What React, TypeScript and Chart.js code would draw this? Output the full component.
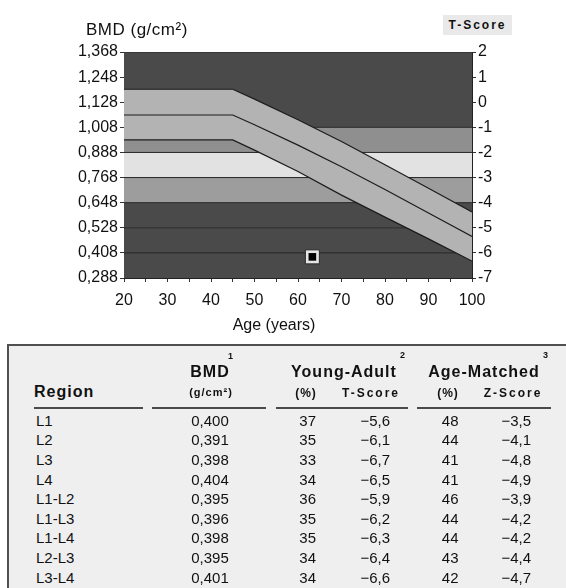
import React, { useEffect, useRef } from 'react';
import { Chart, registerables } from 'chart.js';

Chart.register(...registerables);

// ---- chart data ----
const curveAges = [20, 45, 50, 60, 70, 80, 90, 100];
const upperBand = [1.19, 1.19, 1.143, 1.044, 0.94, 0.829, 0.717, 0.604];
const meanCurve = [1.067, 1.067, 1.02, 0.923, 0.82, 0.711, 0.599, 0.487];
const lowerBand = [0.948, 0.948, 0.899, 0.797, 0.684, 0.579, 0.475, 0.369];
const stripeTops = [0.408, 0.528, 0.648, 0.768, 0.888, 1.008, 1.368];
const stripeColors = ['#4a4a4a', '#4a4a4a', '#4a4a4a', '#9d9d9d', '#e2e2e2', '#8f8f8f', '#4a4a4a'];
const patientAge = [63.3];
const patientBmd = [0.389];
const bmdTicks = [0.288, 0.408, 0.528, 0.648, 0.768, 0.888, 1.008, 1.128, 1.248, 1.368];
const tScoreTicks = [-7, -6, -5, -4, -3, -2, -1, 0, 1, 2];
const ageTicks = [20, 25, 30, 35, 40, 45, 50, 55, 60, 65, 70, 75, 80, 85, 90, 95, 100];
const ageLabelled = [20, 30, 40, 50, 60, 70, 80, 90, 100];

// ---- table data ----
const regions = ['L1', 'L2', 'L3', 'L4', 'L1-L2', 'L1-L3', 'L1-L4', 'L2-L3', 'L3-L4'];
const bmdValues = [0.4, 0.391, 0.398, 0.404, 0.395, 0.396, 0.398, 0.395, 0.401];
const youngAdultPct = [37, 35, 33, 34, 36, 35, 35, 34, 34];
const tScores = [-5.6, -6.1, -6.7, -6.5, -5.9, -6.2, -6.3, -6.4, -6.6];
const ageMatchedPct = [48, 44, 41, 41, 46, 44, 44, 43, 42];
const zScores = [-3.5, -4.1, -4.8, -4.9, -3.9, -4.2, -4.2, -4.4, -4.7];

const FONT = "'Liberation Sans', Arial, sans-serif";
const W = 566;

const comma = (v: number, d: number) => {
  const s = Math.abs(v).toFixed(d).replace('.', ',');
  return (v < 0 ? '\u2212' : '') + s;
};

function BmdChart() {
  const ref = useRef<HTMLCanvasElement | null>(null);
  useEffect(() => {
    if (!ref.current) return;
    const pts = (ys: number[]) => curveAges.map((a, i) => ({ x: a, y: ys[i] }));
    const stripeSets = stripeTops.map((top, i) => ({
      type: 'line' as const,
      data: [
        { x: 20, y: top },
        { x: 100, y: top },
      ],
      borderColor: '#262626',
      borderWidth: 1,
      pointRadius: 0,
      backgroundColor: stripeColors[i],
      fill: i === 0 ? 'start' : '-1',
      order: 3,
    }));
    const n = stripeSets.length;
    const datasets: any[] = [
      ...stripeSets,
      {
        type: 'line',
        data: pts(upperBand),
        borderColor: '#1c1c1c',
        borderWidth: 1.2,
        pointRadius: 0,
        backgroundColor: '#b3b3b3',
        fill: { target: n + 2 },
        order: 2,
      },
      {
        type: 'line',
        data: pts(meanCurve),
        borderColor: '#1c1c1c',
        borderWidth: 1.2,
        pointRadius: 0,
        fill: false,
        order: 1,
      },
      {
        type: 'line',
        data: pts(lowerBand),
        borderColor: '#1c1c1c',
        borderWidth: 1.2,
        pointRadius: 0,
        fill: false,
        order: 1,
      },
      {
        type: 'line',
        data: patientAge.map((a, i) => ({ x: a, y: patientBmd[i] })),
        showLine: false,
        pointStyle: 'rect',
        pointRadius: 9.9,
        backgroundColor: '#e6e6e6',
        borderColor: '#2a2a2a',
        borderWidth: 1,
        order: 0,
      },
      {
        type: 'line',
        data: patientAge.map((a, i) => ({ x: a, y: patientBmd[i] })),
        showLine: false,
        pointStyle: 'rect',
        pointRadius: 5.4,
        backgroundColor: '#000',
        borderWidth: 0,
        order: -1,
      },
    ];
    const tickFont = { family: FONT, size: 16 };
    const chart = new Chart(ref.current, {
      type: 'line',
      data: { datasets },
      options: {
        responsive: false,
        animation: false,
        events: [],
        devicePixelRatio: 1,
        layout: { padding: { left: 64, right: 54, top: 52, bottom: 8 } },
        plugins: { legend: { display: false }, tooltip: { enabled: false }, title: { display: false } },
        scales: {
          x: {
            type: 'linear',
            min: 20,
            max: 100,
            afterBuildTicks: (s: any) => {
              s.ticks = ageTicks.map((v) => ({ value: v }));
            },
            afterFit: (s: any) => {
              s.height = 34;
            },
            ticks: {
              autoSkip: false,
              maxRotation: 0,
              padding: 9,
              color: '#111',
              font: tickFont,
              callback: (v: any) => (ageLabelled.includes(Number(v)) ? String(v) : ''),
            },
            grid: { drawOnChartArea: false, drawTicks: true, tickLength: 4, color: '#333' },
            border: { display: true, color: '#222', width: 1 },
          },
          y: {
            type: 'linear',
            position: 'left',
            min: 0.288,
            max: 1.368,
            afterBuildTicks: (s: any) => {
              s.ticks = bmdTicks.map((v) => ({ value: v }));
            },
            afterFit: (s: any) => {
              s.width = 60;
            },
            ticks: {
              padding: 2,
              color: '#111',
              font: tickFont,
              callback: (v: any) => Number(v).toFixed(3).replace('.', ','),
            },
            grid: { drawOnChartArea: false, drawTicks: true, tickLength: 4, color: '#333' },
            border: { display: true, color: '#222', width: 1 },
          },
          y2: {
            type: 'linear',
            position: 'right',
            min: -7,
            max: 2,
            afterBuildTicks: (s: any) => {
              s.ticks = tScoreTicks.map((v) => ({ value: v }));
            },
            afterFit: (s: any) => {
              s.width = 40;
            },
            ticks: {
              padding: 2,
              color: '#111',
              font: tickFont,
              callback: (v: any) => String(v),
            },
            grid: { drawOnChartArea: false, drawTicks: true, tickLength: 4, color: '#333' },
            border: { display: true, color: '#222', width: 1 },
          },
        },
      },
    } as any);
    return () => chart.destroy();
  }, []);
  return (
    <canvas
      ref={ref}
      width={W}
      height={320}
      style={{ position: 'absolute', left: 0, top: 0, width: W, height: 320, display: 'block' }}
    />
  );
}

type TP = {
  x: number;
  top: number;
  align?: 'left' | 'center' | 'right';
  size?: number;
  bold?: boolean;
  ls?: number;
  children: React.ReactNode;
};

function T({ x, top, align = 'left', size = 15, bold = false, ls = 0, children }: TP) {
  const style: React.CSSProperties = {
    position: 'absolute',
    top,
    whiteSpace: 'nowrap',
    fontFamily: FONT,
    fontSize: size,
    lineHeight: `${size}px`,
    fontWeight: bold ? 'bold' : 'normal',
    letterSpacing: ls,
    color: '#111',
  };
  if (align === 'left') style.left = x;
  else if (align === 'right') style.right = W - x;
  else {
    style.left = x;
    style.transform = 'translateX(-50%)';
  }
  return <div style={style}>{children}</div>;
}

export default function App() {
  const rowTop = (i: number) => 412.7 + i * 19.6;
  const underlines = [
    [34, 143],
    [152, 266],
    [276, 408],
    [417, 551],
  ];
  return (
    <div
      style={{
        position: 'absolute',
        left: 0,
        top: 0,
        width: W,
        height: 588,
        overflow: 'hidden',
        background: '#fff',
      }}
    >
      <BmdChart />
      <T x={86} top={20.5} size={17} ls={0.5}>
        BMD (g/cm²)
      </T>
      <div
        style={{
          position: 'absolute',
          left: 443,
          top: 15,
          width: 69,
          height: 20,
          background: '#e9e9e9',
          fontFamily: FONT,
          fontWeight: 'bold',
          fontSize: 12,
          lineHeight: '20px',
          letterSpacing: 2,
          textAlign: 'center',
          color: '#111',
        }}
      >
        T-Score
      </div>
      <T x={274} top={317} size={16} align="center">
        Age (years)
      </T>

      <div
        style={{
          position: 'absolute',
          left: 7,
          top: 344,
          width: 620,
          height: 300,
          border: '2px solid #505050',
          background: '#efefef',
          boxSizing: 'border-box',
        }}
      />

      <T x={34} top={384} size={16} bold ls={1}>
        Region
      </T>
      <T x={210} top={363.5} size={16} bold ls={1} align="center">
        BMD
      </T>
      <T x={228} top={352} size={9} bold>
        1
      </T>
      <T x={344} top={363.5} size={16} bold ls={1} align="center">
        Young-Adult
      </T>
      <T x={400} top={351} size={9} bold>
        2
      </T>
      <T x={484} top={363.5} size={16} bold ls={1} align="center">
        Age-Matched
      </T>
      <T x={543} top={351} size={9} bold>
        3
      </T>

      <T x={211} top={387} size={11} bold ls={1} align="center">
        (g/cm²)
      </T>
      <T x={306} top={387} size={12} bold ls={1} align="center">
        (%)
      </T>
      <T x={371} top={387} size={12} bold ls={2} align="center">
        T-Score
      </T>
      <T x={448} top={387} size={12} bold ls={1} align="center">
        (%)
      </T>
      <T x={513} top={387} size={12} bold ls={2} align="center">
        Z-Score
      </T>

      {underlines.map(([a, b], i) => (
        <div
          key={i}
          style={{ position: 'absolute', left: a, top: 407, width: b - a, height: 2, background: '#4a4a4a' }}
        />
      ))}

      {regions.map((r, i) => (
        <React.Fragment key={r}>
          <T x={36} top={rowTop(i)}>
            {r}
          </T>
          <T x={210} top={rowTop(i)} align="center">
            {comma(bmdValues[i], 3)}
          </T>
          <T x={316} top={rowTop(i)} align="right">
            {youngAdultPct[i]}
          </T>
          <T x={390} top={rowTop(i)} align="right">
            {comma(tScores[i], 1)}
          </T>
          <T x={458.5} top={rowTop(i)} align="right">
            {ageMatchedPct[i]}
          </T>
          <T x={531} top={rowTop(i)} align="right">
            {comma(zScores[i], 1)}
          </T>
        </React.Fragment>
      ))}
    </div>
  );
}
